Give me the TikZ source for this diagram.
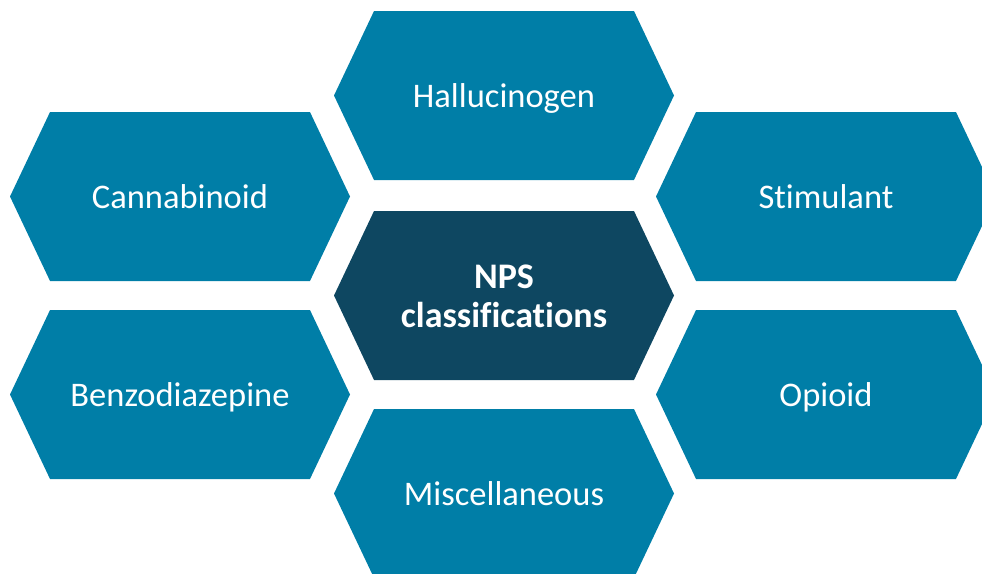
\documentclass[tikz,border=0pt]{standalone}
\usepackage{fontspec}
\setmainfont{Carlito}[Ligatures=NoCommon]
\usetikzlibrary{shapes.symbols}
\definecolor{cellblue}{HTML}{007EA7}
\definecolor{coreblue}{HTML}{0E4761}

\begin{document}
\begin{tikzpicture}[x=1pt, y=-1pt,
  cell/.style={signal, signal to=east and west, signal pointer angle=129.3,
    minimum width=340pt, minimum height=169pt, inner sep=0pt,
    text height=24pt, text depth=0pt,
    fill=cellblue, text=white, align=center, font=\fontsize{34.5}{39}\selectfont},
  core/.style={cell, fill=coreblue, text height=63pt,
    font=\bfseries\fontsize{36}{39}\selectfont}]
\useasboundingbox (0,0) rectangle (982,573);
% centre cell
\node[core] (nps) at (504,295.5) {NPS\\classifications};
% ring of classes
\node[cell] (hallu)  at (504,95.5)  {Hallucinogen};
\node[cell] (cannab) at (180,196.5) {Cannabinoid};
\node[cell] (stim)   at (826,196.5) {Stimulant};
\node[cell] (benzo)  at (180,394.5) {Benzodiazepine};
\node[cell] (opioid) at (826,394.5) {Opioid};
\node[cell] (misc)   at (504,493.5) {Miscellaneous};
\end{tikzpicture}
\end{document}
